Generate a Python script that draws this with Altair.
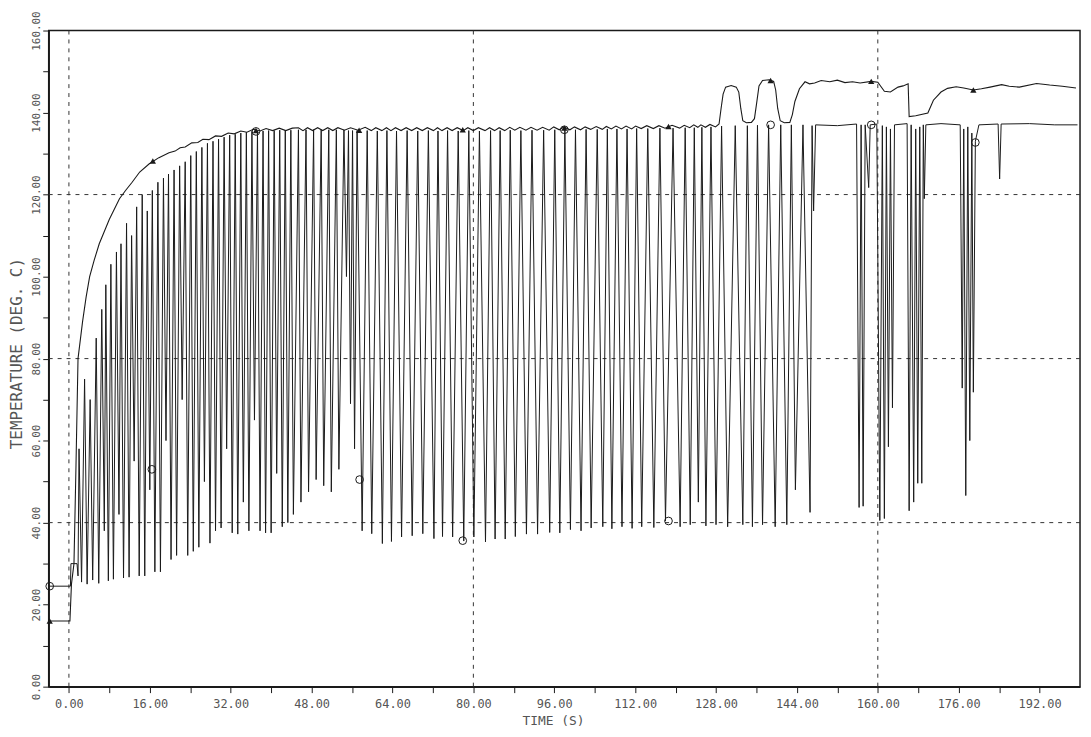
import altair as alt
import pandas as pd

# ---------------- data ----------------
# upper (smooth, rippled) trace
upper_t = [-4, 0.2, 0.5, 1.0, 1.4, 1.8, 2.7, 3.4, 4.1, 5.0, 6.0, 7.0, 8.0, 9.0, 10.0, 11.2, 12.5, 14.0,
           15.9, 17.8, 19.8, 21.0, 22.0, 23.0, 24.3, 25.5, 26.5, 27.7, 29.0, 30.2, 31.5, 32.7, 34.0,
           35.2, 36.5, 37.8, 39.0, 40.3, 41.6, 42.9, 44.2,
           45.4, 46.3, 47.2, 48.2, 49.2, 50.2, 51.2, 52.2, 53.2, 54.5, 55.7, 57.2, 58.6, 59.8, 60.7,
           61.9, 62.8, 63.7, 64.6, 65.7, 66.7, 67.8, 68.8, 69.9, 70.9, 72.1, 72.9, 73.8, 74.8, 75.8,
           76.8, 78.0, 78.9, 80.0, 81.0, 82.3, 83.2, 84.2, 85.1, 86.2, 87.2, 88.2, 89.2, 90.4, 91.4,
           92.6, 93.7, 95.0, 95.9, 97.0, 97.9, 99.1, 100.0, 101.2, 102.1, 103.2, 104.3, 105.5, 106.3,
           107.3, 108.2, 109.3, 110.2, 111.3, 112.1, 113.2, 114.3, 115.6, 116.7, 117.9, 119.3, 120.8,
           121.7, 122.8, 123.6, 124.4, 125.0, 125.9, 126.8, 127.9, 128.6,
           129.0, 129.4, 129.9, 131.0, 132.0, 132.5, 132.9, 133.3, 134.0, 135.0, 135.6, 136.0, 136.5,
           137.2, 138.5, 139.4, 139.8, 140.2, 140.7, 141.5, 142.6, 143.1, 143.6, 144.5, 145.6, 146.5,
           147.5, 148.8, 150.5, 152.0, 153.5, 155.0, 156.5, 158.7, 160.0, 161.3, 162.5, 164.0, 165.0,
           166.0, 166.2, 167.5, 169.9, 171.0, 172.5, 173.8, 175.5, 177.0, 178.9, 180.5, 182.2, 184.5,
           186.0, 188.0, 191.4, 194.0, 196.5, 199.2]
upper_v = [16, 16, 25, 30, 54, 80, 89, 95, 100, 104, 108, 111, 114, 116.5, 119, 121, 123, 125.5,
           127.5, 129, 130.2, 130.6, 131.4, 131.6, 132.6, 132.7, 133.5, 133.4, 134.3, 134.2, 135, 134.8, 135.5,
           135.2, 135.9, 135.5, 136.1, 135.6, 136.2, 135.6, 136.2,
           136.3, 135.6, 136.3, 135.6, 136.3, 135.6, 136.3, 135.6, 136.3, 135.7, 136.3, 135.7, 136.4, 135.6, 136.3,
           135.6, 136.3, 135.6, 136.3, 135.6, 136.3, 135.6, 136.3, 135.6, 136.3, 135.6, 136.3, 135.6, 136.3, 135.6,
           136.3, 135.6, 136.3, 135.6, 136.3, 135.6, 136.3, 135.6, 136.3, 135.6, 136.4, 135.7, 136.4, 135.7, 136.4,
           135.7, 136.4, 135.7, 136.5, 135.8, 136.5, 135.8, 136.5, 135.8, 136.5, 135.9, 136.6, 135.9, 136.6,
           136.0, 136.7, 136.0, 136.7, 136.0, 136.7, 136.1, 136.8, 136.1, 136.8, 136.2, 136.9, 136.2,
           136.9, 136.3, 137.0, 136.4, 137.0, 136.4, 137.1, 136.5, 137.2,
           141, 144.5, 146.2, 146.6, 146.2, 145, 141, 138, 137.5, 137.6, 138.5, 142, 146.5,
           147.8, 148, 147.6, 145.5, 141, 138, 137.5, 137.6, 139.5, 142.7, 145.8, 147.5, 147,
           147.2, 147.8, 147.5, 147.9, 147.3, 147.5, 147.2, 147.6, 147.4, 145.2, 145, 146.2, 146.5,
           147, 139, 139.2, 139.9, 143, 145, 145.9, 146.3, 146, 145.5, 145.8, 146.2, 146.8,
           146.4, 146.2, 147.1, 146.7, 146.4, 146]

# oscillating trace (tops and dips in time order)
osc_t = [-4, 0.3, 0.4, 1.6, 1.8,
         2.0, 2.5, 3.1, 3.6, 4.2, 4.7, 5.4, 5.9, 6.5, 7.0, 7.3, 7.8, 8.3, 8.8, 9.4, 9.9,
         10.3, 10.8, 11.4, 11.9, 12.4, 12.9, 13.4, 13.9, 14.5, 15.0, 15.5, 16.0, 16.5, 17.0,
         17.6, 18.1, 18.7, 19.2, 19.7, 20.2, 20.8, 21.3, 21.9, 22.4, 23.0, 23.5, 24.1, 24.6,
         25.2, 25.7, 26.3, 26.8, 27.4, 27.9, 28.5, 29.0, 29.6, 30.1, 30.7, 31.2, 31.8, 32.3,
         32.9, 33.4, 34.0, 34.5, 35.1, 35.6, 36.2, 36.7, 37.3, 37.8, 38.4, 38.9, 39.5, 40.0,
         40.6, 41.1, 41.7, 42.2, 42.8, 43.3, 43.9, 44.4,
         45.4, 45.9, 46.9, 47.4, 48.4, 48.9, 49.9, 50.4, 51.4, 51.9, 52.9, 53.4, 54.4, 54.9,
         55.3, 55.7, 56.1, 56.5, 57.0, 58.0,
         59.0, 59.9, 61.0, 62.0, 62.9, 63.8, 64.8, 65.8, 66.9, 67.9, 69.0, 70.0, 71.1, 72.2,
         73.0, 73.9, 74.9, 75.9, 77.0, 78.1, 79.1, 80.1, 81.2, 82.4, 83.4, 84.3, 85.3, 86.3,
         87.3, 88.3, 89.4, 90.5, 91.6, 92.7, 93.9, 95.1, 96.1, 97.1, 98.1, 99.2, 100.2, 101.3,
         102.3, 103.3,
         104.5, 105.6, 106.5, 107.4, 108.4, 109.4, 110.4, 111.4, 112.3, 113.3, 114.5, 115.7,
         116.9, 118.0, 119.5, 120.9, 121.9, 122.9, 123.7, 124.5, 125.2, 126.0, 127.0, 128.0,
         129.1, 130.3, 131.8, 133.3, 134.2, 135.2, 136.2, 137.2, 138.4, 139.7, 140.8, 142.0,
         142.9, 143.7, 145.2, 146.6, 147.0, 147.3,
         147.7, 152.0, 155.8, 156.3, 156.7, 157.1, 157.5, 158.2, 158.5, 159.8,
         160.4, 160.9, 161.3, 161.7, 162.1, 162.5, 162.9, 163.3, 165.8,
         166.2, 166.6, 167.1, 167.5, 167.9, 168.3, 168.7, 169.0, 169.2, 169.5, 172.5, 176.3,
         176.7, 177.0, 177.4, 177.8, 178.2, 178.6, 178.9, 179.3, 180.0, 183.8, 184.1, 184.4,
         190.0, 195.0, 199.5]
osc_v = [24.5, 24.5, 30, 30, 27,
         58, 25.5, 75, 25, 70, 26, 85, 25.2, 92, 38, 98, 25.8, 103, 26.2, 106, 42,
         108, 26.5, 113, 26.7, 110, 55, 117, 27, 120, 27, 116, 48, 121, 28,
         123, 28, 124, 60, 125, 31, 126, 32, 127, 70, 128, 32, 129.5, 33,
         130.5, 34, 131.5, 50, 132.5, 35, 133, 38, 133.5, 38.7, 134, 58, 134.5, 37.5,
         134.7, 37.2, 135, 45, 135.2, 38, 135.4, 65, 135.5, 38, 135.5, 37.5, 135.6, 37.5,
         135.6, 52, 135.7, 39, 135.7, 40, 135.7, 42,
         135.8, 45, 135.8, 47.5, 135.8, 50.5, 135.8, 49, 135.8, 47.5, 135.8, 53, 135.8, 100,
         135.6, 69, 135.6, 58, 135.6, 38,
         135.6, 37.3, 135.5, 34.9, 135.6, 35.4, 135.5, 36.5, 135.6, 36.8, 135.5, 37.3, 135.6, 36.1,
         135.5, 36.6, 135.6, 36.5, 135.5, 35.5, 135.6, 36.5, 135.5, 35.3, 135.6, 36, 135.6, 36,
         135.7, 36.6, 135.6, 37.2, 135.7, 37.2, 135.7, 37.6, 135.8, 37.5, 135.8, 38.3, 135.8, 38,
         135.9, 38.7,
         135.9, 39, 136, 38.5, 136, 39, 136, 38.6, 136.1, 39, 136.1, 38.8,
         136.2, 40.4, 136.2, 39, 136.3, 39.5, 136.3, 45, 136.4, 39.2, 136.5, 39.5,
         136.7, 39, 136.8, 39.5, 136.8, 39, 136.9, 39.5, 137, 39, 137, 39.5,
         137, 48, 137, 42.5, 136.8, 116,
         137, 136.8, 137.2, 43.7, 137, 44, 137, 121.7, 137, 137.2,
         40.5, 136.8, 41, 136.5, 58.5, 136, 68, 137, 137.3,
         42.9, 137, 45, 136, 49.6, 136.5, 49.6, 137, 119, 137, 137.3, 137,
         72.8, 136, 46.6, 136.5, 60, 135, 71.8, 133, 137, 137.2, 123.8, 137.2,
         137.3, 137, 137]

# symbols placed on the traces
tri_t = [-3.8, 16.6, 37.0, 57.4, 77.9, 98.0, 118.6, 138.8, 158.7, 178.9]
tri_v = [16, 128.2, 135.6, 135.7, 135.8, 136.2, 136.6, 147.8, 147.6, 145.5]
circ_t = [-3.8, 16.4, 37.0, 57.5, 77.9, 98.0, 118.6, 138.8, 158.7, 179.3]
circ_v = [24.5, 53, 135.4, 50.5, 35.6, 135.8, 40.4, 137, 137, 132.7]

grid_x = [0, 80, 160]
grid_y = [40, 80, 120]
x_ticks = [0, 8, 16, 24, 32, 40, 48, 56, 64, 72, 80, 88, 96, 104, 112, 120, 128, 136,
           144, 152, 160, 168, 176, 184, 192]
y_ticks = [0, 10, 20, 30, 40, 50, 60, 70, 80, 90, 100, 110, 120, 130, 140, 150, 160]

# ---------------- chart ----------------
W, H = 1039, 661
FONT = "DejaVu Sans Mono"
TXT = "#555555"
INK = "#1a1a1a"

xs = alt.Scale(domain=[-4, 200], nice=False, zero=False)
ys = alt.Scale(domain=[0, 160], nice=False, zero=False)

x_axis = alt.Axis(values=x_ticks,
                  labelExpr="datum.value % 16 === 0 ? format(datum.value, '.2f') : ''",
                  title="TIME (S)", grid=False, tickSize=6, labelPadding=6,
                  labelFont=FONT, labelFontSize=12, labelColor=TXT, labelOverlap=False,
                  labelFlush=False,
                  titleFont=FONT, titleFontSize=13, titleColor=TXT, titleFontWeight="normal",
                  titleX=508, titleY=34, titleBaseline="middle", titleAlign="center",
                  domainColor=INK, domainWidth=1.5, tickColor=INK)
y_axis = alt.Axis(values=y_ticks,
                  labelExpr="datum.value % 20 === 0 ? format(datum.value, '.2f') : ''",
                  title="TEMPERATURE (DEG. C)", grid=False, tickSize=6, labelPadding=1,
                  labelAngle=270, labelAlign="center", labelBaseline="bottom",
                  labelFont=FONT, labelFontSize=11, labelColor=TXT, labelOverlap=False,
                  labelFlush=False,
                  titleFont=FONT, titleFontSize=16, titleColor=TXT, titleFontWeight="normal",
                  titleAngle=270, titleX=-32, titleY=325, titleBaseline="middle", titleAlign="center",
                  domainColor=INK, domainWidth=1.5, tickColor=INK)

X = alt.X("t:Q", scale=xs, axis=x_axis)
Y = alt.Y("v:Q", scale=ys, axis=y_axis)

df_up = pd.DataFrame({"t": upper_t, "v": upper_v, "i": range(len(upper_t))})
df_osc = pd.DataFrame({"t": osc_t, "v": osc_v, "i": range(len(osc_t))})
df_tri = pd.DataFrame({"t": tri_t, "v": tri_v})
df_circ = pd.DataFrame({"t": circ_t, "v": circ_v})
df_gx = pd.DataFrame({"t": grid_x})
df_gy = pd.DataFrame({"v": grid_y})

gx = alt.Chart(df_gx).mark_rule(color="#333", strokeWidth=1, strokeDash=[4, 5]).encode(x=X)
gy = alt.Chart(df_gy).mark_rule(color="#333", strokeWidth=1, strokeDash=[4, 5]).encode(y=Y)

osc = alt.Chart(df_osc).mark_line(color=INK, strokeWidth=1, clip=True).encode(
    x=X, y=Y, order=alt.Order("i:Q"))
up = alt.Chart(df_up).mark_line(color=INK, strokeWidth=1.1, clip=True).encode(
    x=X, y=Y, order=alt.Order("i:Q"))
tri = alt.Chart(df_tri).mark_point(shape="triangle-up", filled=True, size=40, color=INK,
                                   opacity=1).encode(x=X, y=Y)
circ = alt.Chart(df_circ).mark_point(shape="circle", filled=False, size=60, color=INK,
                                     strokeWidth=1, opacity=1).encode(x=X, y=Y)

chart = alt.layer(gx, gy, osc, up, tri, circ).properties(
    width=W, height=H,
    autosize=alt.AutoSizeParams(type="none"),
    padding={"left": 41, "top": 20, "right": 3, "bottom": 45},
    background="white",
).configure_view(stroke=INK, strokeWidth=1.5)

chart.save("out.html", embed_options={"renderer": "svg", "actions": False})
